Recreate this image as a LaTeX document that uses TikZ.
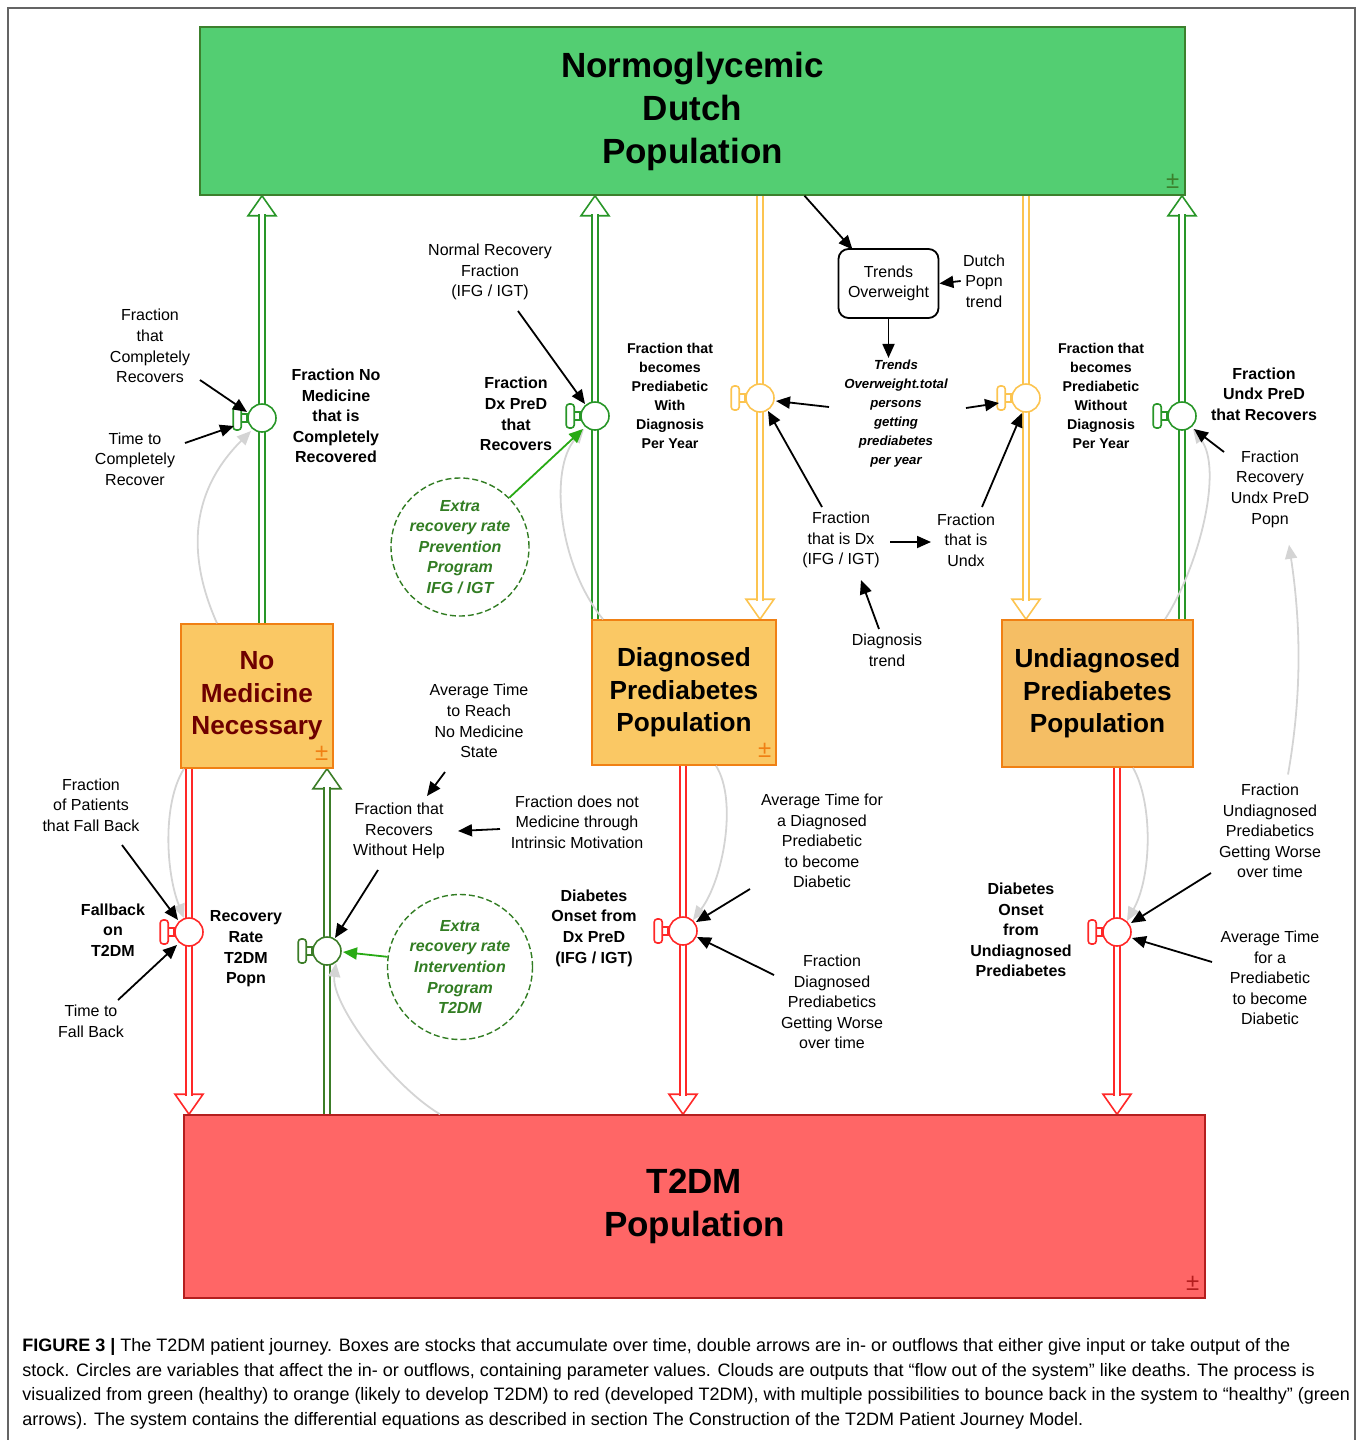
\documentclass[tikz,border=0pt]{standalone}
\usepackage{fontspec}
\setmainfont{Liberation Sans}
\usetikzlibrary{arrows.meta, backgrounds}

\definecolor{normofill}{RGB}{83,206,114}
\definecolor{normoline}{RGB}{60,128,45}
\definecolor{prefill}{RGB}{250,200,100}
\definecolor{undxfill}{RGB}{245,190,100}
\definecolor{preline}{RGB}{240,128,20}
\definecolor{t2fill}{RGB}{255,102,102}
\definecolor{t2line}{RGB}{180,30,30}
\definecolor{upgreen}{RGB}{40,150,40}
\definecolor{intgreen}{RGB}{60,125,40}
\definecolor{downyellow}{RGB}{252,196,80}
\definecolor{downred}{RGB}{255,40,40}
\definecolor{extragreen}{RGB}{50,125,35}
\definecolor{pushgreen}{RGB}{40,170,20}
\definecolor{linkgray}{RGB}{212,212,212}
\definecolor{nomedtext}{RGB}{110,0,0}
\definecolor{framegray}{RGB}{100,100,100}

\begin{document}
\begin{tikzpicture}[x=0.5pt, y=-0.5pt,
    stock/.style = {draw = #1, line width = 0.75pt, align = center, inner sep = 0pt},
    lbl/.style = {align = center, inner sep = 1pt, font = \fontsize{8}{10.3}\selectfont},
    lblb/.style = {lbl, font = \fontsize{8}{10.3}\selectfont\bfseries},
    lbls/.style = {align = center, inner sep = 1pt, font = \fontsize{7.1}{9.5}\selectfont\bfseries},
    valve/.style = {circle, draw = #1, fill = white, line width = 0.8pt, minimum size = 14pt, inner sep = 0pt},
    pipe/.style = {draw = #1, double = white, line width = 0.8pt, double distance = 2pt},
    sig/.style = {color = black, line width = 0.9pt, -{Triangle[length = 7pt, width = 6pt]}},
    push/.style = {color = pushgreen, line width = 0.9pt, -{Triangle[length = 7pt, width = 6pt]}},
    link/.style = {draw = linkgray, line width = 0.9pt, -{Triangle[length = 7pt, width = 6pt]}},
    extra/.style = {circle, draw = extragreen, dash pattern = on 3pt off 1.5pt, line width = 0.7pt, text = extragreen,
                    align = center, inner sep = 0pt, font = \fontsize{8}{10.3}\selectfont\bfseries\itshape},
    pm/.style = {font = \fontsize{12}{12}\selectfont, inner sep = 0pt},
    uphead/.pic = {\draw[line width = 0.8pt, fill = white, pic actions] (0,0) -- (-14,20) -- (14,20) -- cycle;},
    downhead/.pic = {\draw[line width = 0.8pt, fill = white, pic actions] (0,0) -- (-14,-20) -- (14,-20) -- cycle;},
    handle/.pic = {\draw[line width = 0.8pt, fill = white, pic actions] (-6,-4) rectangle (0,4);
                   \draw[line width = 0.8pt, fill = white, rounded corners = 1.5pt, pic actions] (-14,-12) rectangle (-6,12);}]
      \useasboundingbox (0,0) rectangle (1358,1440);
      \draw[framegray, line width = 1pt] (8,1440) -- (8,8) -- (1355,8) -- (1355,1440);

      % stocks
      \node[stock = normoline, fill = normofill, minimum width = 492.5pt, minimum height = 84pt,
            font = \fontsize{17.5}{21.5}\selectfont\bfseries] (normo) at (692.5,111) {Normoglycemic\\Dutch\\Population};
      \node[stock = preline, fill = prefill, minimum width = 76pt, minimum height = 72pt, text = nomedtext,
            font = \fontsize{13.1}{16.3}\selectfont\bfseries] (nomed) at (257,696) {No\\Medicine\\Necessary};
      \node[stock = preline, fill = prefill, minimum width = 92pt, minimum height = 72.5pt,
            font = \fontsize{13.1}{16.3}\selectfont\bfseries] (diag) at (684,692.5) {Diagnosed\\Prediabetes\\Population};
      \node[stock = preline, fill = undxfill, minimum width = 95.5pt, minimum height = 73.5pt,
            font = \fontsize{13.1}{16.3}\selectfont\bfseries] (undiag) at (1097.5,693.5) {Undiagnosed\\Prediabetes\\Population};
      \node[stock = t2line, fill = t2fill, minimum width = 510.5pt, minimum height = 91.5pt,
            font = \fontsize{17.5}{21.5}\selectfont\bfseries] (t2dm) at (694.5,1206.5) {T2DM\\Population};
      \node[pm, text = normoline] (normoPM) at ([shift = {(-13,-14)}]normo.south east) {±};
      \node[pm, text = preline] (nomedPM) at ([shift = {(-12,-15)}]nomed.south east) {±};
      \node[pm, text = preline] (diagPM) at ([shift = {(-12,-15)}]diag.south east) {±};
      \node[pm, text = t2line] (t2dmPM) at ([shift = {(-13,-15)}]t2dm.south east) {±};

      % valves
      \node[valve = upgreen] (vNoMed) at (262,418) {};
      \node[valve = upgreen] (vDxRec) at (595,416) {};
      \node[valve = downyellow] (vDxIn) at (760,398) {};
      \node[valve = downyellow] (vUdIn) at (1026,398) {};
      \node[valve = upgreen] (vUdRec) at (1182,416) {};
      \node[valve = downred] (vFall) at (189,932) {};
      \node[valve = intgreen] (vRecT2) at (327,951) {};
      \node[valve = downred] (vDxOut) at (683,931) {};
      \node[valve = downred] (vUdOut) at (1117,932) {};
      \pic[draw = upgreen] at (vNoMed.west) {handle};
      \pic[draw = upgreen] at (vDxRec.west) {handle};
      \pic[draw = downyellow] at (vDxIn.west) {handle};
      \pic[draw = downyellow] at (vUdIn.west) {handle};
      \pic[draw = upgreen] at (vUdRec.west) {handle};
      \pic[draw = downred] at (vFall.west) {handle};
      \pic[draw = intgreen] at (vRecT2.west) {handle};
      \pic[draw = downred] at (vDxOut.west) {handle};
      \pic[draw = downred] at (vUdOut.west) {handle};

      % flows
      \begin{scope}[on background layer]
        \pic[draw = upgreen] at (vNoMed |- normo.south) {uphead};
        \pic[draw = upgreen] at (vDxRec |- normo.south) {uphead};
        \pic[draw = upgreen] at (vUdRec |- normo.south) {uphead};
        \pic[draw = downyellow] at (vDxIn |- diag.north) {downhead};
        \pic[draw = downyellow] at (vUdIn |- undiag.north) {downhead};
        \pic[draw = downred] at (vFall |- t2dm.north) {downhead};
        \pic[draw = downred] at (vDxOut |- t2dm.north) {downhead};
        \pic[draw = downred] at (vUdOut |- t2dm.north) {downhead};
        \pic[draw = intgreen] at (vRecT2 |- nomed.south) {uphead};
        \draw[pipe = upgreen, shorten > = 9pt] (vNoMed |- nomed.north) -- (vNoMed |- normo.south);
        \draw[pipe = upgreen, shorten > = 9pt] (vDxRec |- diag.north) -- (vDxRec |- normo.south);
        \draw[pipe = upgreen, shorten > = 9pt] (vUdRec |- undiag.north) -- (vUdRec |- normo.south);
        \draw[pipe = downyellow, shorten > = 9pt] (vDxIn |- normo.south) -- (vDxIn |- diag.north);
        \draw[pipe = downyellow, shorten > = 9pt] (vUdIn |- normo.south) -- (vUdIn |- undiag.north);
        \draw[pipe = downred, shorten > = 9pt] (vFall |- nomed.south) -- (vFall |- t2dm.north);
        \draw[pipe = downred, shorten > = 9pt] (vDxOut |- diag.south) -- (vDxOut |- t2dm.north);
        \draw[pipe = downred, shorten > = 9pt] (vUdOut |- undiag.south) -- (vUdOut |- t2dm.north);
        \draw[pipe = intgreen, shorten > = 9pt] (vRecT2 |- t2dm.north) -- (vRecT2 |- nomed.south);
      \end{scope}

      % variables
      \node[lbl] (fCompRec) at (150,346) {Fraction\\that\\Completely\\Recovers};
      \node[lbl] (tCompRec) at (135,459) {Time to\\Completely\\Recover};
      \node[lblb] (fNoMedRec) at (336,416) {Fraction No\\Medicine\\that is\\Completely\\Recovered};
      \node[lbl] (normRec) at (490,272) {Normal Recovery\\Fraction\\(IFG / IGT)};
      \node[lblb] (fDxRec) at (516,414) {Fraction\\Dx PreD\\that\\Recovers};
      \node[extra, minimum size = 69pt] (prevProg) at (460,547) {Extra\\recovery rate\\Prevention\\Program\\IFG / IGT};
      \node[lbls] (fWithDx) at (670,396) {Fraction that\\becomes\\Prediabetic\\With\\Diagnosis\\Per Year};
      \node[draw, rounded corners = 5pt, line width = 0.9pt, minimum width = 50pt, minimum height = 34.5pt, lbl] (trends) at (888.5,283.5) {Trends\\Overweight};
      \node[lbl] (dutchTrend) at (984,281) {Dutch\\Popn\\trend};
      \node[lbls, font = \fontsize{6.6}{9.5}\selectfont\bfseries\itshape] (totOver) at (896,414) {Trends\\Overweight.total\\persons\\getting\\prediabetes\\per year};
      \node[lbls] (fWithoutDx) at (1101,396) {Fraction that\\becomes\\Prediabetic\\Without\\Diagnosis\\Per Year};
      \node[lblb] (fUdxRec) at (1264,394) {Fraction\\Undx PreD\\that Recovers};
      \node[lbl] (fRecUdx) at (1270,489) {Fraction\\Recovery\\Undx PreD\\Popn};
      \node[lbl] (fDx) at (841,540) {Fraction\\that is Dx\\(IFG / IGT)};
      \node[lbl] (fUdx) at (966,540) {Fraction\\that is\\Undx};
      \node[lbl] (dxTrend) at (887,650) {Diagnosis\\trend};
      \node[lbl] (tReachNoMed) at (479,721) {Average Time\\to Reach\\No Medicine\\State};
      \node[lbl] (fNoHelp) at (399,831) {Fraction that\\Recovers\\Without Help};
      \node[lbl] (fIntrinsic) at (577,822) {Fraction does not\\Medicine through\\Intrinsic Motivation};
      \node[lbl] (fFallBack) at (91,805) {Fraction\\of Patients\\that Fall Back};
      \node[lblb] (fallT2) at (113,930) {Fallback\\on\\T2DM};
      \node[lblb] (recT2) at (246,949) {Recovery\\Rate\\T2DM\\Popn};
      \node[lbl] (tFallBack) at (91,1021) {Time to\\Fall Back};
      \node[extra, minimum size = 72.5pt] (intProg) at (460,967) {Extra\\recovery rate\\Intervention\\Program\\T2DM};
      \node[lblb] (onsetDx) at (594,928) {Diabetes\\Onset from\\Dx PreD\\(IFG / IGT)};
      \node[lbl] (tDxWorse) at (822,841) {Average Time for\\a Diagnosed\\Prediabetic\\to become\\Diabetic};
      \node[lbl] (fDxWorse) at (832,1002) {Fraction\\Diagnosed\\Prediabetics\\Getting Worse\\over time};
      \node[lblb] (onsetUdx) at (1021,930) {Diabetes\\Onset\\from\\Undiagnosed\\Prediabetes};
      \node[lbl] (fUdxWorse) at (1270,831) {Fraction\\Undiagnosed\\Prediabetics\\Getting Worse\\over time};
      \node[lbl] (tUdxWorse) at (1270,978) {Average Time\\for a\\Prediabetic\\to become\\Diabetic};

      % stock links
      \draw[link] ([shift = {(-40,0)}]nomed.north) .. controls +(-40,-90) and +(-45,45) .. ([shift = {(-11,13)}]vNoMed.center);
      \draw[link] ([shift = {(-81,0)}]diag.north) .. controls +(-45,-55) and +(-35,40) .. ([shift = {(-11,13)}]vDxRec.center);
      \draw[link] ([shift = {(67.5,0)}]undiag.north) .. controls +(35,-55) and +(30,40) .. ([shift = {(11,13)}]vUdRec.center);
      \draw[link] ([shift = {(-73,0)}]nomed.south) .. controls +(-22,35) and +(-18,-45) .. ([shift = {(-5,-14)}]vFall.center);
      \draw[link] ([shift = {(-254.5,0)}]t2dm.north) .. controls +(-50,-30) and +(-5,40) .. ([shift = {(9,12)}]vRecT2.center);
      \draw[link] ([shift = {(32,0)}]diag.south) .. controls +(22,35) and +(30,-40) .. ([shift = {(10,-11)}]vDxOut.center);
      \draw[link] ([shift = {(35.5,0)}]undiag.south) .. controls +(20,35) and +(25,-45) .. ([shift = {(10,-11)}]vUdOut.center);
      \draw[link] ([shift = {(18,-7)}]fUdxWorse.north) .. controls +(14,-80) and +(12,80) .. ([shift = {(19,15)}]fRecUdx.south);

      % causal arrows
      \path[push] (prevProg.45) edge ([shift = {(-12,13)}]vDxRec.center)
                  (intProg.172) edge ([shift = {(16,1)}]vRecT2.center);
      \path[sig] ([shift = {(50,34)}]fCompRec.center) edge ([shift = {(-15,-6)}]vNoMed.center)
                 ([shift = {(50,-16)}]tCompRec.center) edge ([shift = {(-28,8)}]vNoMed.center)
                 ([shift = {(28,39)}]normRec.center) edge ([shift = {(-10,-12)}]vDxRec.center)
                 ([shift = {(-67,-7)}]totOver.center) edge ([shift = {(16,3)}]vDxIn.center)
                 ([shift = {(70,-6)}]totOver.center) edge ([shift = {(-27,5)}]vUdIn.center)
                 ([shift = {(112,0)}]normo.south) edge ([shift = {(-36,-34)}]trends.center)
                 (trends.south) edge (trends.south |- totOver.north)
                 (dutchTrend.west) edge (trends.east)
                 ([shift = {(-19,-33)}]fDx.center) edge ([shift = {(8,13)}]vDxIn.center)
                 ([shift = {(16,-33)}]fUdx.center) edge ([shift = {(-4,15)}]vUdIn.center)
                 ([shift = {(49,2)}]fDx.center) edge ([shift = {(-35,2)}]fUdx.center)
                 ([shift = {(-8,-21)}]dxTrend.center) edge ([shift = {(20,40)}]fDx.center)
                 ([shift = {(-46,-37)}]fRecUdx.center) edge ([shift = {(12,13)}]vUdRec.center)
                 ([shift = {(-34,51)}]tReachNoMed.center) edge ([shift = {(28,-35)}]fNoHelp.center)
                 ([shift = {(-77,7)}]fIntrinsic.center) edge ([shift = {(59,0)}]fNoHelp.center)
                 ([shift = {(-21,39)}]fNoHelp.center) edge ([shift = {(8,-13)}]vRecT2.center)
                 ([shift = {(31,40)}]fFallBack.center) edge ([shift = {(-11,-12)}]vFall.center)
                 ([shift = {(27,-21)}]tFallBack.center) edge ([shift = {(-12,13)}]vFall.center)
                 ([shift = {(-72,48)}]tDxWorse.center) edge ([shift = {(13,-9)}]vDxOut.center)
                 ([shift = {(-58,-27)}]fDxWorse.center) edge ([shift = {(14,6)}]vDxOut.center)
                 ([shift = {(-59,42)}]fUdxWorse.center) edge ([shift = {(14,-9)}]vUdOut.center)
                 ([shift = {(-58,-16)}]tUdxWorse.center) edge ([shift = {(15,6)}]vUdOut.center);

      \node[anchor = north west, inner sep = 0pt, align = left, font = \fontsize{9}{12.35}\selectfont] (caption) at (22,1338)
        {\textbf{FIGURE 3 |} The T2DM patient journey. Boxes are stocks that accumulate over time, double arrows are in- or outflows that either give input or take output of the\\
         stock. Circles are variables that affect the in- or outflows, containing parameter values. Clouds are outputs that “flow out of the system” like deaths. The process is\\
         visualized from green (healthy) to orange (likely to develop T2DM) to red (developed T2DM), with multiple possibilities to bounce back in the system to “healthy” (green\\
         arrows). The system contains the differential equations as described in section The Construction of the T2DM Patient Journey Model.};
    \end{tikzpicture}
\end{document}
